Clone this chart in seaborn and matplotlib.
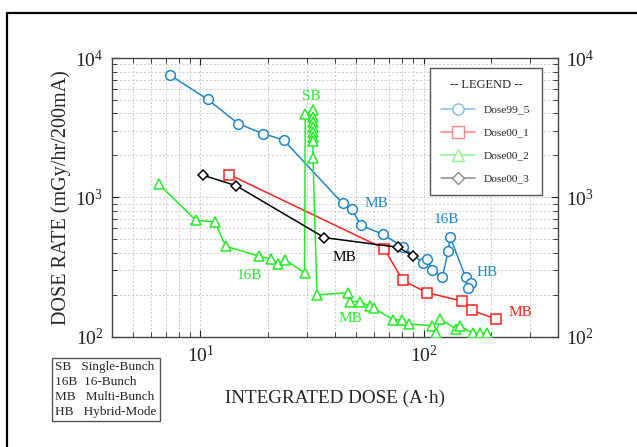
import matplotlib
matplotlib.use("Agg")
import matplotlib.pyplot as plt
from matplotlib.lines import Line2D
import seaborn as sns

# Dose99_5 (blue circles)
d99_5_x = [7.29, 10.78, 14.75, 19.13, 23.58, 43.3, 47.7, 52.3, 65.6, 81.2,
           99.1, 103.9, 108.7, 121.2, 129.0, 131.2, 154.3, 162.4, 158.5]
d99_5_y = [7550, 5050, 3380, 2860, 2580, 907, 821, 631, 544, 438,
           340, 360, 301, 267, 413, 523, 267, 244, 225]

# Dose00_1 (red squares)
d00_1_x = [13.48, 66.5, 80.6, 103.3, 149.0, 164.0, 210.8]
d00_1_y = [1455, 428, 254, 207, 180, 155, 133.6]

# Dose00_2 (green triangles)
d00_2_x = [6.49, 9.53, 11.59, 12.98, 18.36, 20.63, 22.17, 24.0, 29.27,
           29.48, 31.92, 31.92, 31.92, 31.92, 31.92, 31.92, 31.92, 31.92,
           33.26, 45.6, 46.9, 51.6, 57.2, 60.0, 73.2, 79.8, 86.3,
           108.7, 113.6, 118.4, 139.6, 145.5, 165.8, 178.7, 192.7]
d00_2_y = [1248, 685, 666, 446, 378, 360, 334, 356, 287,
           3945, 4236, 3774, 3474, 3199, 2946, 2712, 2539, 1917,
           199.5, 207, 178.6, 178.6, 166, 160, 132, 132, 123.5,
           119.5, 106, 134, 113.8, 119.5, 106, 106, 106]

# Dose00_3 (black diamonds)
d00_3_x = [10.28, 14.45, 35.9, 77.1, 89.4]
d00_3_y = [1440, 1213, 514, 438, 380]

series_names = ["Dose99_5", "Dose00_1", "Dose00_2", "Dose00_3"]
series_colors = ["#1e88c8", "#ff2020", "#22ee22", "#000000"]
legend_colors = ["#7fbfe6", "#ff8484", "#8cf58c", "#8a8a8a"]
series_markers = ["o", "s", "^", "D"]
series_msize = [7, 7.5, 7, 5]

# mode annotations: text, x, y, color
notes_text = ["SB", "MB", "16B", "HB", "MB", "16B", "MB", "MB"]
notes_x = [31.4, 61.2, 126.9, 192.7, 44.2, 16.6, 47.2, 270.0]
notes_y = [5337, 897, 697, 290, 369, 273, 134, 150]
notes_color = ["#22ee22", "#1e88c8", "#1e88c8", "#1e88c8",
               "#000000", "#22ee22", "#22ee22", "#ff2020"]

sns.set_style("ticks")
plt.rcParams["font.family"] = ["Liberation Serif", "DejaVu Serif"]
plt.rcParams["mathtext.fontset"] = "custom"
plt.rcParams["mathtext.rm"] = "Liberation Serif"

fig = plt.figure(figsize=(6.37, 4.47), dpi=100)
ax = fig.add_axes([0.1753, 0.2468, 0.7007, 0.6234])

data = [(d99_5_x, d99_5_y), (d00_1_x, d00_1_y), (d00_2_x, d00_2_y), (d00_3_x, d00_3_y)]
for (xs, ys), c, m, ms in zip(data, series_colors, series_markers, series_msize):
    sns.lineplot(x=xs, y=ys, sort=False, estimator=None, ax=ax, color=c,
                 linewidth=1.1, marker=m, markersize=ms, markerfacecolor="white",
                 markeredgecolor=c, markeredgewidth=1.1, zorder=3)

ax.set_xscale("log")
ax.set_yscale("log")
ax.set_xlim(4, 400)
ax.set_ylim(100, 10000)

ax.grid(which="both", ls=(0, (2, 2)), color="#cccccc", lw=0.7)
ax.tick_params(which="both", direction="in", top=True, right=True,
               labelright=True, labelsize=14, colors="#222222")
ax.tick_params(which="major", length=5, pad=6)
ax.tick_params(which="minor", length=3.5)
for s in ax.spines.values():
    s.set_color("#444444")
    s.set_linewidth(1)

ax.set_xlabel("INTEGRATED DOSE (A\u00b7h)", fontsize=13.8, labelpad=17)
ax.set_ylabel("DOSE RATE (mGy/hr/200mA)", fontsize=14.5, labelpad=3)

for t, x, y, c in zip(notes_text, notes_x, notes_y, notes_color):
    ax.text(x, y, t, color=c, fontsize=11, ha="center", va="center", zorder=4)

handles = [Line2D([], [], color=c, marker=m, markersize=ms + 1, markerfacecolor="white",
                  markeredgecolor=c, linewidth=1.1)
           for c, m, ms in zip(legend_colors, series_markers, series_msize)]
leg = ax.legend(handles, series_names, title="-- LEGEND --", loc="upper left",
                bbox_to_anchor=(0.713, 0.964), fontsize=8.2, title_fontsize=9,
                frameon=True, fancybox=False, handlelength=3.0, handletextpad=0.75,
                labelspacing=1.15, borderpad=1.0, borderaxespad=0)
leg.get_frame().set_edgecolor("#555555")
leg.get_frame().set_linewidth(1)
leg.get_frame().set_alpha(1)

fig.text(0.087, 0.128, "SB   Single-Bunch\n16B  16-Bunch\nMB   Multi-Bunch\nHB   Hybrid-Mode",
         fontsize=9.5, ha="left", va="center", linespacing=1.32,
         bbox=dict(boxstyle="square,pad=0.25", facecolor="white", edgecolor="#555555", lw=1))

# page frame of the scanned figure
fig.add_artist(Line2D([0.011, 1.0], [0.972, 0.972], color="black", lw=1.6, transform=fig.transFigure))
fig.add_artist(Line2D([0.011, 0.011], [0.0, 0.972], color="black", lw=1.6, transform=fig.transFigure))

fig.savefig("out.png", dpi=100)
